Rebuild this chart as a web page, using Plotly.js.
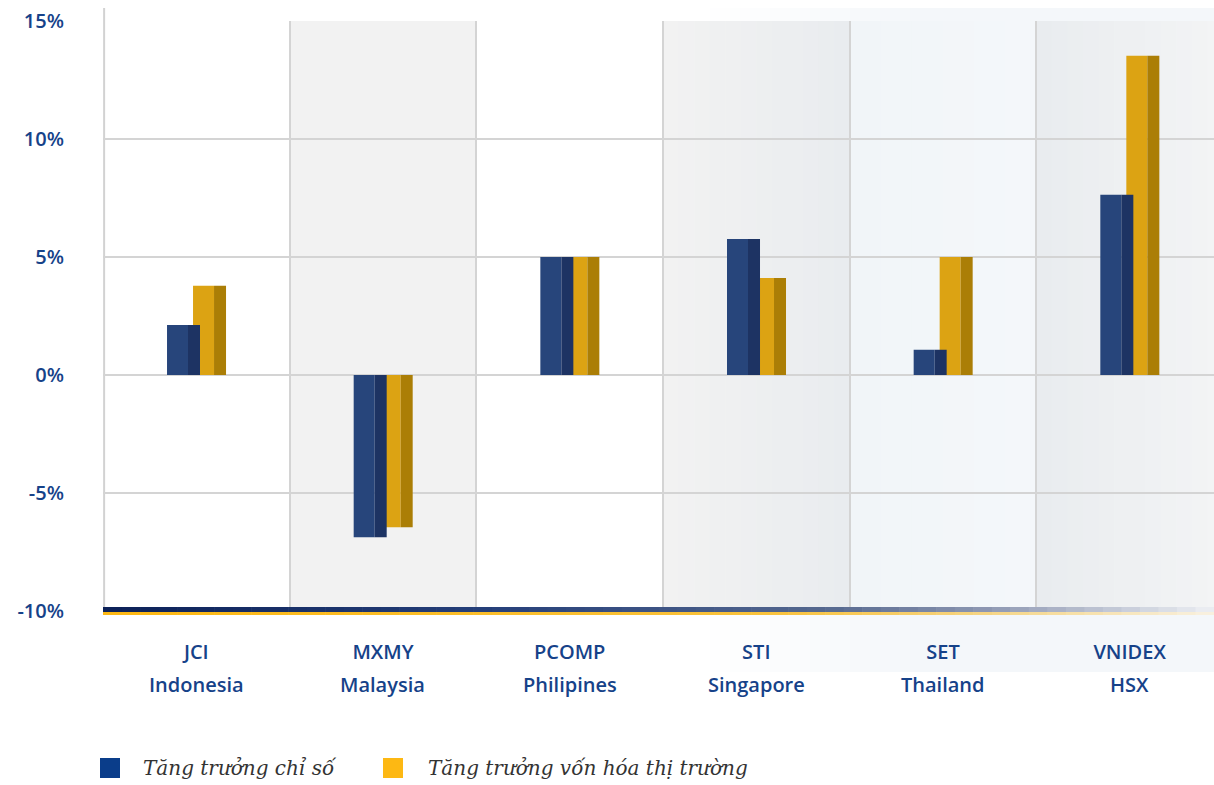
<!DOCTYPE html>
<html><head><meta charset="utf-8">
<script src="https://cdn.plot.ly/plotly-3.0.1.min.js"></script>
<style>html,body{margin:0;padding:0;background:#fff}#chart{width:1214px;height:785px}</style>
</head><body><div id="chart"></div>
<script>
// ---- data ----
const codes = ['JCI', 'MXMY', 'PCOMP', 'STI', 'SET', 'VNIDEX'];
const countries = ['Indonesia', 'Malaysia', 'Philipines', 'Singapore', 'Thailand', 'HSX'];
const indexGrowth = [2.12, -6.88, 5.0, 5.76, 1.07, 7.64];
const capGrowth = [3.78, -6.45, 5.0, 4.11, 5.0, 13.53];
const seriesNames = ['Tăng trưởng chỉ số', 'Tăng trưởng vốn hóa thị trường'];
const yTickVals = [-10, -5, 0, 5, 10, 15];
const yTickText = ['-10%', '-5%', '0%', '5%', '10%', '15%'];

// ---- layout helpers ----
const L = 103, W = 1111, T = 21, H = 590;
const px = v => (v - L) / W;
const py = v => (T + H - v) / H;
function hex(c){return [parseInt(c.slice(1,3),16),parseInt(c.slice(3,5),16),parseInt(c.slice(5,7),16)];}
function mix(a,b,t){const A=hex(a),B=hex(b);return 'rgb('+A.map((v,i)=>Math.round(v+(B[i]-v)*t)).join(',')+')';}
function gradStops(stops, t){
  for(let i=0;i<stops.length-1;i++){
    if(t<=stops[i+1][0]){const u=(t-stops[i][0])/(stops[i+1][0]-stops[i][0]);return mix(stops[i][1],stops[i+1][1],u);}
  }
  return stops[stops.length-1][1];
}
const shapes = [];
// light bluish region behind right part
(function(){
  const x0=700,x1=920,n=22;
  for(let i=0;i<n;i++){
    const a=x0+(x1-x0)*i/n,b=x0+(x1-x0)*(i+1)/n+0.5;
    shapes.push({type:'rect',xref:'paper',yref:'paper',x0:px(a),x1:px(b),y0:py(672),y1:py(8),
      line:{width:0},fillcolor:mix('#ffffff','#f4f7fa',(i+0.5)/n),layer:'below'});
  }
  shapes.push({type:'rect',xref:'paper',yref:'paper',x0:px(x1),x1:px(1214)+0.01,y0:py(672),y1:py(8),
    line:{width:0},fillcolor:'#f4f7fa',layer:'below'});
})();
// column backgrounds
function colGrad(x0,x1,c0,c1,n){
  for(let i=0;i<n;i++){
    shapes.push({type:'rect',xref:'x',yref:'paper',x0:x0+(x1-x0)*i/n,x1:x0+(x1-x0)*(i+1)/n+0.003,y0:0,y1:1,
      line:{width:0},fillcolor:mix(c0,c1,(i+0.5)/n),layer:'below'});
  }
}
colGrad(0.5,1.5,'#f2f2f2','#f2f2f2',1);
colGrad(2.5,3.5,'#f2f2f2','#e9ecef',12);
colGrad(3.5,4.5,'#f1f5f8','#f4f7fa',6);
colGrad(4.5,5.5,'#e9ecef','#f3f4f5',12);
// left axis line
shapes.push({type:'line',xref:'paper',yref:'paper',x0:0.001,x1:0.001,y0:py(609),y1:py(8),
  line:{color:'#d2d2d2',width:2},layer:'below'});
// bottom gradient base lines
(function(){
  const n=60;
  const navy=[[0,'#0c2158'],[0.35,'#26407a'],[0.65,'#55688f'],[0.8,'#8f99b3'],[1,'#eef0f4']];
  const gold=[[0,'#fdb813'],[0.6,'#f9c23c'],[0.8,'#f6d584'],[1,'#f8f1e2']];
  for(let i=0;i<n;i++){
    const t=(i+0.5)/n,a=103+(1214-103)*i/n,b=103+(1214-103)*(i+1)/n+0.6;
    shapes.push({type:'rect',xref:'paper',yref:'paper',x0:px(a),x1:px(b),y0:py(612),y1:py(607),
      line:{width:0},fillcolor:gradStops(navy,t),layer:'above'});
    shapes.push({type:'rect',xref:'paper',yref:'paper',x0:px(a),x1:px(b),y0:py(615),y1:py(612),
      line:{width:0},fillcolor:gradStops(gold,t),layer:'above'});
  }
})();
// legend squares
shapes.push({type:'rect',xref:'paper',yref:'paper',x0:px(100),x1:px(120),y0:py(778),y1:py(758),line:{width:0},fillcolor:'#0a3d8a'});
shapes.push({type:'rect',xref:'paper',yref:'paper',x0:px(383),x1:px(403),y0:py(778),y1:py(758),line:{width:0},fillcolor:'#fdb813'});

const labelFont = {family:'Open Sans',size:20,weight:600,color:'#164289'};
const annotations = [];
countries.forEach((c,i)=>annotations.push({xref:'x',yref:'paper',x:codes[i],y:py(684),text:c,showarrow:false,
  xanchor:'center',yanchor:'middle',font:labelFont}));
annotations.push({xref:'paper',yref:'paper',x:px(141),y:py(768),text:seriesNames[0],showarrow:false,xanchor:'left',yanchor:'middle',
  font:{family:'DejaVu Serif',size:20,style:'italic',color:'#333333'}});
annotations.push({xref:'paper',yref:'paper',x:px(426),y:py(768),text:seriesNames[1],showarrow:false,xanchor:'left',yanchor:'middle',
  font:{family:'DejaVu Serif',size:20,style:'italic',color:'#333333'}});

// bar geometry (category units)
const fw = 0.1125, sw = 0.0643;
function bar(y, color, offset, width, name){
  return {type:'bar',x:codes,y:y,marker:{color:color,line:{width:0}},offset:offset,width:width,
    name:name,showlegend:false,hoverinfo:'skip'};
}
const data = [
  bar(capGrowth,'#dca313',-0.0177,fw,seriesNames[1]),
  bar(capGrowth,'#ab7e06',0.0948,sw,seriesNames[1]),
  bar(indexGrowth,'#27457b',-0.157,fw,seriesNames[0]),
  bar(indexGrowth,'#1d3363',-0.0445,sw,seriesNames[0])
];

const layout = {
  width:1214,height:785,
  margin:{l:L,r:0,t:T,b:785-T-H,pad:0},
  paper_bgcolor:'#ffffff',plot_bgcolor:'rgba(0,0,0,0)',
  barmode:'overlay',showlegend:false,
  xaxis:{type:'category',range:[-0.5,5.452],tickson:'boundaries',showgrid:true,gridcolor:'#d4d4d4',gridwidth:2,
    ticks:'',showline:false,zeroline:false,fixedrange:true,ticklabelstandoff:27,
    tickfont:labelFont},
  yaxis:{range:[-10,15],tickvals:yTickVals,ticktext:yTickText,showgrid:true,gridcolor:'#d4d4d4',gridwidth:2,
    zeroline:false,showline:false,ticks:'',ticklabelstandoff:38,fixedrange:true,
    tickfont:labelFont},
  shapes:shapes,annotations:annotations
};
Plotly.newPlot('chart',data,layout,{displayModeBar:false,staticPlot:true});
</script></body></html>
